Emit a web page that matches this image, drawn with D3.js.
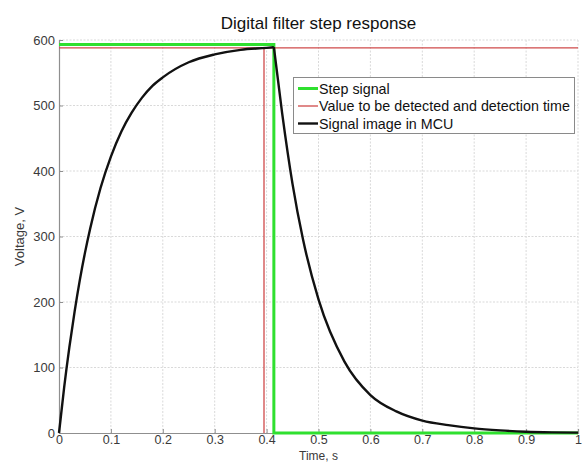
<!DOCTYPE html>
<html>
<head>
<meta charset="utf-8">
<script src="https://cdn.jsdelivr.net/npm/d3@7/dist/d3.min.js"></script>
<style>
  html, body { margin: 0; padding: 0; background: #fff; }
  svg { display: block; font-family: "Liberation Sans", Arial, Helvetica, sans-serif; }
</style>
</head>
<body>
<svg id="chart" width="582" height="462"></svg>
<script>
// ---- data ----
const title = "Digital filter step response";
const xLabel = "Time, s";
const yLabel = "Voltage, V";
const xTicks = [0, 0.1, 0.2, 0.3, 0.4, 0.5, 0.6, 0.7, 0.8, 0.9, 1];
const xTickLabels = ["0", "0.1", "0.2", "0.3", "0.4", "0.5", "0.6", "0.7", "0.8", "0.9", "1"];
const yTicks = [0, 100, 200, 300, 400, 500, 600];
const yTickLabels = ["0", "100", "200", "300", "400", "500", "600"];
const legendLabels = ["Step signal", "Value to be detected and detection time", "Signal image in MCU"];

// Step signal
const stepTime  = [0, 0.414, 0.414, 1];
const stepValue = [593, 593, 0, 0];

// Value to be detected and detection time
const thresholdValue = 588;
const detectionTime = 0.395;

// Signal image in MCU (filtered response)
const mcuTime  = [0, 0.01, 0.02, 0.03, 0.04, 0.05, 0.06, 0.08, 0.10, 0.12, 0.14, 0.16, 0.18, 0.20, 0.25, 0.30, 0.35, 0.40, 0.414,
                  0.43, 0.45, 0.47, 0.50, 0.55, 0.60, 0.65, 0.70, 0.75, 0.80, 0.85, 0.90, 0.95, 1.00];
const mcuValue = [0, 70, 131, 185, 233, 275, 312, 374, 422, 460, 489, 512, 530, 543, 566, 578, 585, 588, 589,
                  488, 380, 296, 204, 109, 58, 33, 19, 12, 7, 4, 2, 1, 0.5];
const peakIndex = 18;

// ---- layout ----
const svg = d3.select("#chart");
const pLeft = 59, pRight = 578, pTop = 40, pBottom = 433;

const x = d3.scaleLinear().domain([0, 1]).range([pLeft, pRight]);
const y = d3.scaleLinear().domain([0, 600]).range([pBottom, pTop]);

const axisColor = "#8f8f8f";
const textColor = "#3a3a3a";

// grid
const grid = svg.append("g");
grid.selectAll("line.gx").data(xTicks.slice(1)).join("line")
  .attr("x1", d => x(d)).attr("x2", d => x(d))
  .attr("y1", pTop).attr("y2", pBottom)
  .attr("stroke", "#d9d9d9").attr("stroke-width", 1).attr("stroke-dasharray", "2,1.5");
grid.selectAll("line.gy").data(yTicks.slice(1)).join("line")
  .attr("x1", pLeft).attr("x2", pRight)
  .attr("y1", d => y(d)).attr("y2", d => y(d))
  .attr("stroke", "#d9d9d9").attr("stroke-width", 1).attr("stroke-dasharray", "2,1.5");

// axes
const xAxis = d3.axisBottom(x).tickValues(xTicks).tickFormat((d, i) => xTickLabels[i]).tickSize(-4).tickPadding(2);
const yAxis = d3.axisLeft(y).tickValues(yTicks).tickFormat((d, i) => yTickLabels[i]).tickSize(-4).tickPadding(4);

const gx = svg.append("g").attr("transform", `translate(0,${pBottom})`).call(xAxis);
const gy = svg.append("g").attr("transform", `translate(${pLeft},0)`).call(yAxis);
[gx, gy].forEach(g => {
  g.select(".domain").attr("stroke", axisColor).attr("stroke-width", 1.2);
  g.selectAll(".tick line").attr("stroke", axisColor);
  g.selectAll(".tick text").attr("fill", textColor)
    .style("font-family", "'Liberation Sans', Arial, sans-serif");
});
gx.selectAll(".tick text").attr("dy", "0.71em").style("font-size", "12.5px");
gy.selectAll(".tick text").attr("dy", "0.32em").style("font-size", "13px");

// clip
svg.append("clipPath").attr("id", "plotclip").append("rect")
  .attr("x", pLeft - 2).attr("y", pTop - 4).attr("width", pRight - pLeft + 4).attr("height", pBottom - pTop + 8);
const plot = svg.append("g").attr("clip-path", "url(#plotclip)");

const line = d3.line().x(d => x(d[0])).y(d => y(d[1]));

// step signal (green)
const stepData = stepTime.map((t, i) => [t, stepValue[i]]);
plot.append("path").datum(stepData).attr("d", line)
  .attr("fill", "none").attr("stroke", "#2fe02f").attr("stroke-width", 3);

// threshold & detection time (red)
plot.append("path").datum([[0, thresholdValue], [1, thresholdValue]]).attr("d", line)
  .attr("fill", "none").attr("stroke", "#cf4a4a").attr("stroke-width", 1.3);
plot.append("path").datum([[detectionTime, 0], [detectionTime, thresholdValue]]).attr("d", line)
  .attr("fill", "none").attr("stroke", "#cf4a4a").attr("stroke-width", 1.3);

// MCU signal (black)
const mcuData = mcuTime.map((t, i) => [t, mcuValue[i]]);
const smooth = d3.line().x(d => x(d[0])).y(d => y(d[1])).curve(d3.curveMonotoneX);
plot.append("path").datum(mcuData.slice(0, peakIndex + 1)).attr("d", smooth)
  .attr("fill", "none").attr("stroke", "#111").attr("stroke-width", 2.4).attr("stroke-linejoin", "round");
plot.append("path").datum(mcuData.slice(peakIndex)).attr("d", smooth)
  .attr("fill", "none").attr("stroke", "#111").attr("stroke-width", 2.4).attr("stroke-linejoin", "round");

// title & labels
svg.append("text").attr("x", (pLeft + pRight) / 2).attr("y", 29).attr("text-anchor", "middle")
  .attr("fill", "#111").style("font-size", "17px").text(title);
svg.append("text").attr("x", (pLeft + pRight) / 2).attr("y", 459.5).attr("text-anchor", "middle")
  .attr("fill", textColor).style("font-size", "12px").text(xLabel);
svg.append("text").attr("transform", `translate(24,${(pTop + pBottom) / 2}) rotate(-90)`)
  .attr("text-anchor", "middle").attr("fill", textColor).style("font-size", "13px").text(yLabel);

// legend
const lg = svg.append("g");
lg.append("rect").attr("x", 293.5).attr("y", 77.5).attr("width", 281).attr("height", 56)
  .attr("fill", "#fff").attr("stroke", "#8a8a8a").attr("stroke-width", 1);
const legendColors = ["#2fe02f", "#cf4a4a", "#111"];
const legendWidths = [3, 1.3, 2.4];
const rowY = [88.5, 106, 123.5];
legendLabels.forEach((lab, i) => {
  lg.append("line").attr("x1", 298).attr("x2", 318).attr("y1", rowY[i]).attr("y2", rowY[i])
    .attr("stroke", legendColors[i]).attr("stroke-width", legendWidths[i]);
  lg.append("text").attr("x", 319).attr("y", rowY[i]).attr("dy", "0.35em")
    .attr("fill", "#111").style("font-size", "14.3px").text(lab);
});
</script>
</body>
</html>
